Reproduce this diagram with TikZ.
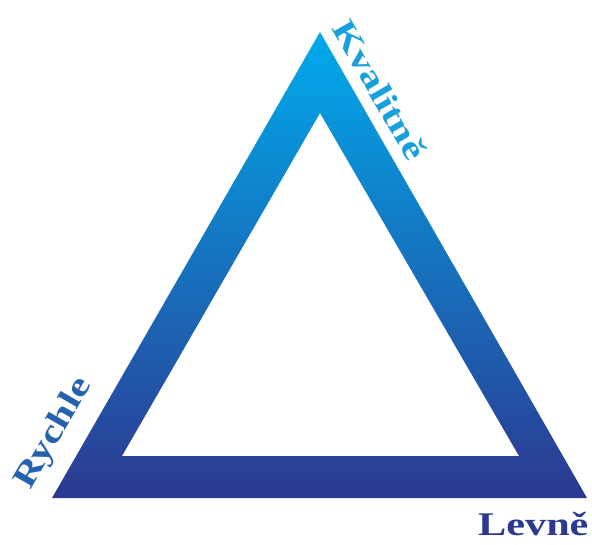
\documentclass[tikz,border=0pt]{standalone}
\usepackage{fontspec}
\setmainfont{Liberation Serif}
\definecolor{topblue}{RGB}{0,170,235}
\definecolor{botblue}{RGB}{44,57,145}
\definecolor{kcol}{RGB}{24,160,220}
\definecolor{rcol}{RGB}{36,98,174}
\definecolor{lcol}{RGB}{43,57,144}
\tikzset{lbl/.style={inner sep=0pt, font=\fontsize{33}{33}\selectfont\bfseries}}
\newcommand{\wide}[1]{\scalebox{1.28}[1]{#1}}
\begin{document}
\begin{tikzpicture}[x=1pt,y=-1pt]
\useasboundingbox (0,0) rectangle (592,544);
\coordinate (OT) at (320,32);
\coordinate (OL) at (52,498);
\coordinate (OR) at (587,498);
\coordinate (IT) at (320,113);
\coordinate (IL) at (122,456);
\coordinate (IR) at (519,456);
\shade[top color=topblue, bottom color=botblue, even odd rule]
  (OT) -- (OL) -- (OR) -- cycle (IT) -- (IL) -- (IR) -- cycle;
\node[lbl, text=kcol, rotate=-60, anchor=base west] (kv) at (331,28) {\wide{Kvalitně}};
\node[lbl, text=rcol, rotate=60, anchor=base west] (ry) at (30,491) {\wide{Rychle}};
\node[lbl, text=lcol, anchor=base west] (lv) at (478,535) {\wide{Levně}};
\end{tikzpicture}
\end{document}
